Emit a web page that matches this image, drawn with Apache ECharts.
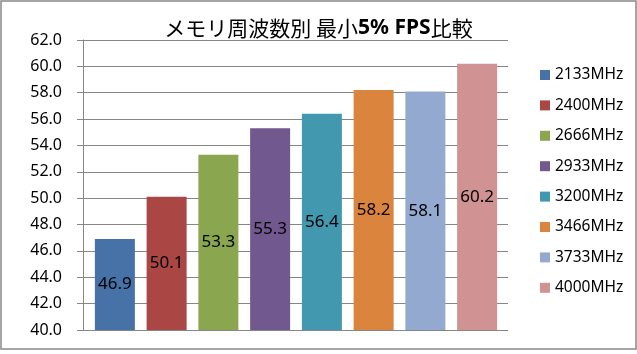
<!DOCTYPE html>
<html>
<head>
<meta charset="utf-8">
<script src="https://cdn.jsdelivr.net/npm/echarts@6/dist/echarts.min.js"></script>
<style>html,body{margin:0;padding:0;background:#fff}#c{width:637px;height:354px}</style>
</head>
<body>
<div id="c"></div>
<script>
const categories = ['2133MHz','2400MHz','2666MHz','2933MHz','3200MHz','3466MHz','3733MHz','4000MHz'];
const values = [46.9, 50.1, 53.3, 55.3, 56.4, 58.2, 58.1, 60.2];
const yTicks = {min: 40, max: 62, interval: 2};
const titleParts = ['メモリ周波数別 最小', '5% FPS', '比較'];

const palette = ['#4672A8','#AA4643','#8AA64F','#71588F','#4198AF','#DB843D','#93A9CF','#D09292'];
const gridColor = '#868686';
const font = '"Noto Sans", "Noto Sans CJK JP", sans-serif';

const chart = echarts.init(document.getElementById('c'), null, {renderer: 'canvas'});

const series = categories.map((name, i) => ({
  name: name,
  type: 'bar',
  xAxisIndex: 1,
  yAxisIndex: 1,
  stack: 'all',
  barWidth: 40,
  itemStyle: {color: palette[i]},
  label: {
    show: true,
    position: 'inside',
    fontSize: 17,
    fontFamily: font,
    color: '#000',
    formatter: p => p.value.toFixed(1)
  },
  data: categories.map((c, j) => j === i ? values[i] : '-')
}));

chart.setOption({
  backgroundColor: '#fff',
  animation: false,
  title: {
    text: '{a|' + titleParts[0] + '}{b|' + titleParts[1] + '}{a|' + titleParts[2] + '}',
    left: 'center',
    top: 13,
    textStyle: {
      rich: {
        a: {fontSize: 21, fontFamily: '"Noto Sans CJK JP", sans-serif', fontWeight: 'normal', color: '#000'},
        b: {fontSize: 21, fontFamily: font, fontWeight: 'bold', color: '#000'}
      }
    }
  },
  graphic: [{
    type: 'rect',
    shape: {x: 1, y: 1, width: 635, height: 348},
    style: {fill: 'none', stroke: '#888', lineWidth: 1.5},
    silent: true,
    z: 100
  }],
  legend: {
    orient: 'vertical',
    left: 535,
    top: 62,
    itemWidth: 10,
    itemHeight: 10,
    itemGap: 14.4,
    icon: 'rect',
    textStyle: {fontSize: 15.5, lineHeight: 16, fontFamily: font, color: '#000'},
    data: categories
  },
  grid: [
    {left: 83, right: 129, top: 40, bottom: 24},
    {left: 89, right: 134, top: 40, bottom: 24}
  ],
  xAxis: [
    {type: 'category', gridIndex: 0, data: categories, show: true,
     axisLine: {show: false}, axisTick: {show: false}, axisLabel: {show: false}},
    {type: 'category', gridIndex: 1, data: categories, show: false}
  ],
  yAxis: [
    {type: 'value', gridIndex: 0, min: yTicks.min, max: yTicks.max, interval: yTicks.interval,
     axisLine: {show: true, lineStyle: {color: gridColor}},
     axisTick: {show: true, length: 6, lineStyle: {color: gridColor}},
     axisLabel: {fontSize: 16, fontFamily: font, color: '#000', margin: 21, formatter: v => v.toFixed(1)},
     splitLine: {show: true, lineStyle: {color: gridColor, width: 1}}},
    {type: 'value', gridIndex: 1, min: yTicks.min, max: yTicks.max, interval: yTicks.interval, show: false,
     splitLine: {show: false}}
  ],
  series: series
});
</script>
</body>
</html>
